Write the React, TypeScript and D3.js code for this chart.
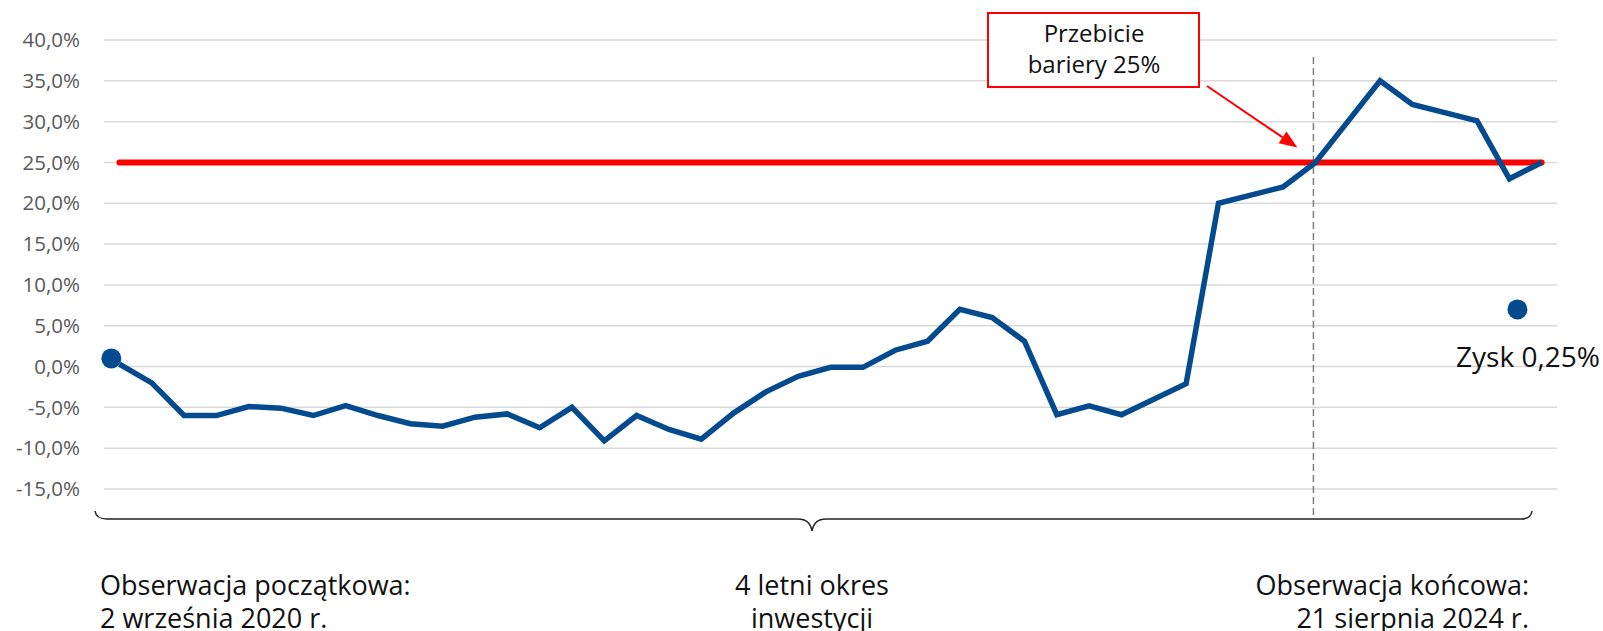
import * as React from 'react'
import * as d3 from 'd3'

// monthly observations of the underlying, % change vs. initial level
const observations: number[] = [
  0.3, -2.0, -6.0, -6.0, -4.9, -5.1, -6.0, -4.8, -6.0, -7.0,
  -7.3, -6.2, -5.8, -7.5, -5.0, -9.1, -6.0, -7.7, -8.9, -5.7,
  -3.1, -1.2, -0.1, -0.1, 2.0, 3.1, 7.0, 6.0, 3.1, -5.9,
  -4.8, -5.9, -4.0, -2.1, 20.0, 21.0, 22.0, 25.0, 30.0, 35.0,
  32.1, 31.1, 30.1, 23.0, 25.0,
];

const barrierLevel = 25;
const barrierBreakIndex = 37;

// start / end observation markers (index position, value)
const markers = [
  { pos: -0.25, value: 1.0 },
  { pos: 43.25, value: 7.0 },
];

const yTicks: number[] = [40, 35, 30, 25, 20, 15, 10, 5, 0, -5, -10, -15];

const boxLines = ['Przebicie', 'bariery 25%'];
const profitLabel = 'Zysk 0,25%';
const leftLabel = ['Obserwacja początkowa:', '2 września 2020 r.'];
const midLabel = ['4 letni okres', 'inwestycji'];
const rightLabel = ['Obserwacja końcowa:', '21 sierpnia 2024 r.'];

const W = 1603;
const H = 631;
const BLUE = '#034a8e';
const RED = '#ff0000';
const FONT = '"Open Sans", sans-serif';

const fmt = (v: number) => v.toFixed(1).replace('.', ',') + '%';

const App: React.FC = () => {
  const x = d3.scaleLinear().domain([0, observations.length - 1]).range([119.4, 1541.7]);
  const y = d3.scaleLinear().domain([-15, 40]).range([489, 40]);

  const line = d3.line<number>()
    .x((_, i) => x(i))
    .y(d => y(d));

  const barrier = d3.line<number>()
    .x(d => x(d))
    .y(() => y(barrierLevel));

  // arrow from box to the break point
  const a0 = [1207, 86];
  const a1 = [x(barrierBreakIndex) - 18, y(barrierLevel) - 15];
  const dx = a1[0] - a0[0];
  const dy = a1[1] - a0[1];
  const len = Math.hypot(dx, dy);
  const ux = dx / len, uy = dy / len;
  const hl = 18, hw = 7;
  const bx = a1[0] - ux * hl, by = a1[1] - uy * hl;
  const head = `${a1[0]},${a1[1]} ${bx - uy * hw},${by + ux * hw} ${bx + uy * hw},${by - ux * hw}`;

  const braceY = 519;
  const braceMid = 812;
  const brace = `M95,511 Q96,${braceY} 107,${braceY} L${braceMid - 14},${braceY} Q${braceMid - 2},${braceY} ${braceMid},${braceY + 12} Q${braceMid + 2},${braceY} ${braceMid + 14},${braceY} L1521,${braceY} Q1531,${braceY} 1532,511`;

  const labelY = (i: number) => 595 + i * 33;

  return (
    <svg width={W} height={H} style={{ position: 'absolute', left: 0, top: 0, background: '#fff' }}>
      {/* grid + y labels */}
      <g>
        {yTicks.map(t => (
          <g key={t}>
            <line x1={104} x2={1557} y1={y(t)} y2={y(t)} stroke="#d9d9d9" strokeWidth={1.5} />
            <text x={80} y={y(t)} dy="0.35em" textAnchor="end" fontFamily={FONT} fontSize={20.5} fill="#595959">
              {fmt(t)}
            </text>
          </g>
        ))}
      </g>

      {/* dashed line at barrier break */}
      <line x1={x(barrierBreakIndex) - 2} x2={x(barrierBreakIndex) - 2} y1={57} y2={braceY}
        stroke="#7f7f7f" strokeWidth={1.5} strokeDasharray="7,4" />

      {/* barrier */}
      <path d={barrier([0, observations.length - 1]) ?? ''} stroke={RED} strokeWidth={6} strokeLinecap="round" fill="none" />

      {/* series */}
      <path d={line(observations) ?? ''} stroke={BLUE} strokeWidth={5.5} strokeLinejoin="miter" fill="none" />

      {markers.map((m, i) => (
        <circle key={i} cx={x(m.pos)} cy={y(m.value)} r={10} fill={BLUE} />
      ))}

      <text x={1456} y={367} fontFamily={FONT} fontSize={28} fill="#111">{profitLabel}</text>

      {/* annotation box */}
      <rect x={988} y={13} width={211} height={74} fill="#fff" stroke={RED} strokeWidth={2} />
      {boxLines.map((t, i) => (
        <text key={t} x={1094} y={42 + i * 31} textAnchor="middle" fontFamily={FONT} fontSize={24} fill="#111">{t}</text>
      ))}
      <line x1={a0[0]} y1={a0[1]} x2={bx} y2={by} stroke={RED} strokeWidth={2} />
      <polygon points={head} fill={RED} />

      {/* brace */}
      <path d={brace} stroke="#222" strokeWidth={1.5} fill="none" />

      {/* bottom labels */}
      {leftLabel.map((t, i) => (
        <text key={t} x={100} y={labelY(i)} fontFamily={FONT} fontSize={27} fill="#111">{t}</text>
      ))}
      {midLabel.map((t, i) => (
        <text key={t} x={braceMid} y={labelY(i)} textAnchor="middle" fontFamily={FONT} fontSize={27} fill="#111">{t}</text>
      ))}
      {rightLabel.map((t, i) => (
        <text key={t} x={1529} y={labelY(i)} textAnchor="end" fontFamily={FONT} fontSize={27} fill="#111">{t}</text>
      ))}
    </svg>
  );
};

export default App;
